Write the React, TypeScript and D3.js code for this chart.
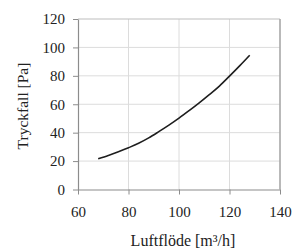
import React, { useRef, useEffect } from "react";
import * as d3 from "d3";

// luftflöde [m³/h] och tryckfall [Pa], avlästa från kurvan
const flow = [68, 72, 76, 80, 84, 88, 92, 96, 100, 104, 108, 112, 116, 120, 124, 128];
const pressure = [21.7, 24, 26.6, 29.4, 32.5, 36.3, 40.7, 45.3, 50.2, 55.5, 61, 66.8, 72.8, 79.8, 87, 94.5];
const xTicks = [60, 80, 100, 120, 140];
const yTicks = [0, 20, 40, 60, 80, 100, 120];

const App = () => {
    const svgRef = useRef<SVGSVGElement | null>(null);

    useEffect(() => {
        const left = 78, right = 280, top = 19, bottom = 189.5;
        const font = "'Liberation Serif', 'Times New Roman', serif";

        const svg = d3.select(svgRef.current);
        svg.selectAll("*").remove();

        const x = d3.scaleLinear().domain([60, 140]).range([left, right]);
        const y = d3.scaleLinear().domain([0, 120]).range([bottom, top]);

        // grid
        svg.append("g")
            .selectAll("line")
            .data(xTicks.slice(1, -1))
            .enter()
            .append("line")
            .attr("x1", d => x(d)).attr("x2", d => x(d))
            .attr("y1", top).attr("y2", bottom)
            .attr("stroke", "#dcdcdc").attr("stroke-width", 1);
        svg.append("g")
            .selectAll("line")
            .data(yTicks.slice(1, -1))
            .enter()
            .append("line")
            .attr("x1", left).attr("x2", right)
            .attr("y1", d => y(d)).attr("y2", d => y(d))
            .attr("stroke", "#dcdcdc").attr("stroke-width", 1);

        // top and right frame
        svg.append("line")
            .attr("x1", left).attr("x2", right).attr("y1", top).attr("y2", top)
            .attr("stroke", "#bdbdbd").attr("stroke-width", 1.2);
        svg.append("line")
            .attr("x1", right).attr("x2", right).attr("y1", top).attr("y2", bottom)
            .attr("stroke", "#a8a8a8").attr("stroke-width", 1.6);

        // axes
        const xAxis = svg.append("g")
            .attr("transform", `translate(0,${bottom})`)
            .call(d3.axisBottom(x).tickValues(xTicks).tickSize(5).tickPadding(12).tickSizeOuter(0));
        const yAxis = svg.append("g")
            .attr("transform", `translate(${left},0)`)
            .call(d3.axisLeft(y).tickValues(yTicks).tickSize(5).tickPadding(8).tickSizeOuter(0));

        [xAxis, yAxis].forEach(a => {
            a.attr("font-family", font).attr("font-size", 15);
            a.select(".domain").attr("stroke", "#8c8c8c").attr("stroke-width", 1.2);
            a.selectAll(".tick line").attr("stroke", "#8c8c8c");
            a.selectAll(".tick text").attr("fill", "#222");
        });

        // curve
        const pts: [number, number][] = flow.map((f, i) => [f, pressure[i]]);
        const line = d3.line<[number, number]>()
            .x(d => x(d[0]))
            .y(d => y(d[1]))
            .curve(d3.curveMonotoneX);
        svg.append("path")
            .datum(pts)
            .attr("d", line)
            .attr("fill", "none")
            .attr("stroke", "#1e1e1e")
            .attr("stroke-width", 1.6);

        // axis titles
        svg.append("text")
            .attr("x", 183)
            .attr("y", 246)
            .attr("text-anchor", "middle")
            .attr("font-family", font)
            .attr("font-size", 16)
            .attr("fill", "#222")
            .text("Luftflöde [m³/h]");

        svg.append("text")
            .attr("transform", "translate(28,106) rotate(-90)")
            .attr("text-anchor", "middle")
            .attr("font-family", font)
            .attr("font-size", 15.5)
            .attr("fill", "#222")
            .text("Tryckfall [Pa]");
    }, []);

    return (
        <svg
            ref={svgRef}
            width={294}
            height={250}
            style={{ position: "absolute", left: 0, top: 0, background: "#fff" }}
        />
    );
};

export default App;
